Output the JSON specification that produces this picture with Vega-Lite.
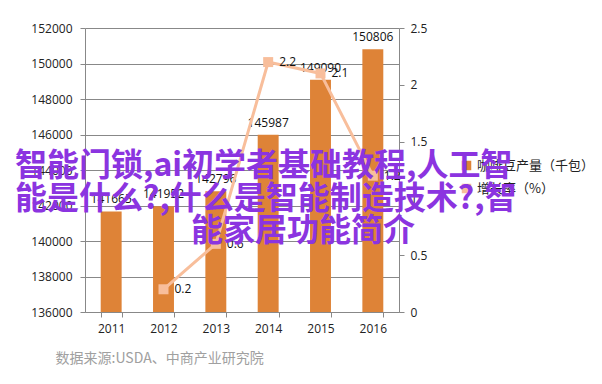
{
  "$schema": "https://vega.github.io/schema/vega-lite/v6.json",
  "width": 314,
  "height": 284,
  "autosize": {"type": "none"},
  "padding": {"left": 85, "top": 28, "right": 203, "bottom": 72},
  "background": "white",
  "config": {"view": {"stroke": null}},
  "data": {"values": [
    {"year": "2011", "output": 141665, "growth": null},
    {"year": "2012", "output": 141952, "growth": 0.2},
    {"year": "2013", "output": 142796, "growth": 0.6},
    {"year": "2014", "output": 145987, "growth": 2.2},
    {"year": "2015", "output": 149090, "growth": 2.1},
    {"year": "2016", "output": 150806, "growth": 1.2}
  ]},
  "title": {
    "text": ["智能门锁,ai初学者基础教程,人工智", "能是什么?,什么是智能制造技术?,智", "\u200b\u3000\u3000\u3000\u3000\u3000\u2002能家居功能简介"],
    "orient": "top",
    "anchor": "start",
    "frame": "group",
    "dx": -70,
    "offset": -226,
    "baseline": "top",
    "align": "left",
    "font": "Noto Sans CJK SC",
    "fontSize": 32,
    "fontWeight": "bold",
    "color": "#8B34E0",
    "lineHeight": 32.5
  },
  "encoding": {
    "x": {
      "field": "year",
      "type": "ordinal",
      "scale": {"paddingInner": 0.6, "paddingOuter": 0.3},
      "axis": {
        "labelAngle": 0,
        "labelFont": "Open Sans",
        "labelFontSize": 12,
        "labelColor": "#222222",
        "labelPadding": 6,
        "domainColor": "#888888",
        "tickColor": "#888888",
        "tickBand": "extent",
        "tickSize": 5,
        "title": "数据来源:USDA、中商产业研究院",
        "titleFont": "Noto Sans CJK SC",
        "titleFontSize": 14,
        "titleFontWeight": "normal",
        "titleColor": "#a0a0a0",
        "titleAnchor": "start",
        "titleAlign": "left",
        "titleX": -30,
        "titleY": 46,
        "titleBaseline": "middle"
      }
    }
  },
  "layer": [
    {
      "encoding": {
        "y": {
          "field": "output",
          "type": "quantitative",
          "scale": {"domain": [136000, 152000], "nice": false, "zero": false},
          "axis": {
            "orient": "left",
            "title": null,
            "values": [136000, 138000, 140000, 142000, 144000, 146000, 148000, 150000, 152000],
            "format": "d",
            "grid": true,
            "gridColor": "#888888",
            "domainColor": "#888888",
            "tickColor": "#888888",
            "tickSize": 5,
            "labelPadding": 8,
            "labelFont": "Open Sans",
            "labelFontSize": 12,
            "labelColor": "#222222"
          }
        }
      },
      "layer": [
        {
          "mark": {"type": "bar"},
          "encoding": {
            "y2": {"datum": 136000},
            "color": {
              "datum": "咖啡豆产量（千包）",
              "scale": {"domain": ["咖啡豆产量（千包）", "增长率（%）"], "range": ["#DE8337", "#F8BE9B"]},
              "legend": {
                "title": null,
                "orient": "none",
                "legendX": 375,
                "legendY": 131,
                "symbolType": "square",
                "symbolSize": 64,
                "labelFont": "Noto Sans CJK SC",
                "labelFontSize": 13,
                "labelColor": "#222222",
                "rowPadding": 8,
                "padding": 0
              }
            }
          }
        },
        {
          "mark": {"type": "text", "dy": -12, "font": "Open Sans", "fontSize": 12, "color": "#111111"},
          "encoding": {"text": {"field": "output", "type": "quantitative", "format": "d"}}
        }
      ]
    },
    {
      "encoding": {
        "y": {
          "field": "growth",
          "type": "quantitative",
          "scale": {"domain": [0, 2.5], "nice": false},
          "axis": {
            "orient": "right",
            "title": null,
            "values": [0, 0.5, 1, 1.5, 2, 2.5],
            "format": "~g",
            "grid": false,
            "domainColor": "#888888",
            "tickColor": "#888888",
            "tickSize": 5,
            "labelPadding": 6,
            "labelFont": "Open Sans",
            "labelFontSize": 12,
            "labelColor": "#222222"
          }
        }
      },
      "layer": [
        {
          "mark": {"type": "line", "strokeWidth": 3},
          "encoding": {"color": {"datum": "增长率（%）"}}
        },
        {
          "mark": {"type": "point", "shape": "square", "filled": true, "size": 100, "opacity": 1},
          "encoding": {"color": {"datum": "增长率（%）"}}
        },
        {
          "mark": {"type": "text", "dx": 11, "align": "left", "baseline": "middle", "font": "Open Sans", "fontSize": 12, "color": "#111111"},
          "encoding": {"text": {"field": "growth", "type": "quantitative", "format": "~g"}}
        }
      ]
    }
  ],
  "resolve": {"scale": {"y": "independent"}}
}
